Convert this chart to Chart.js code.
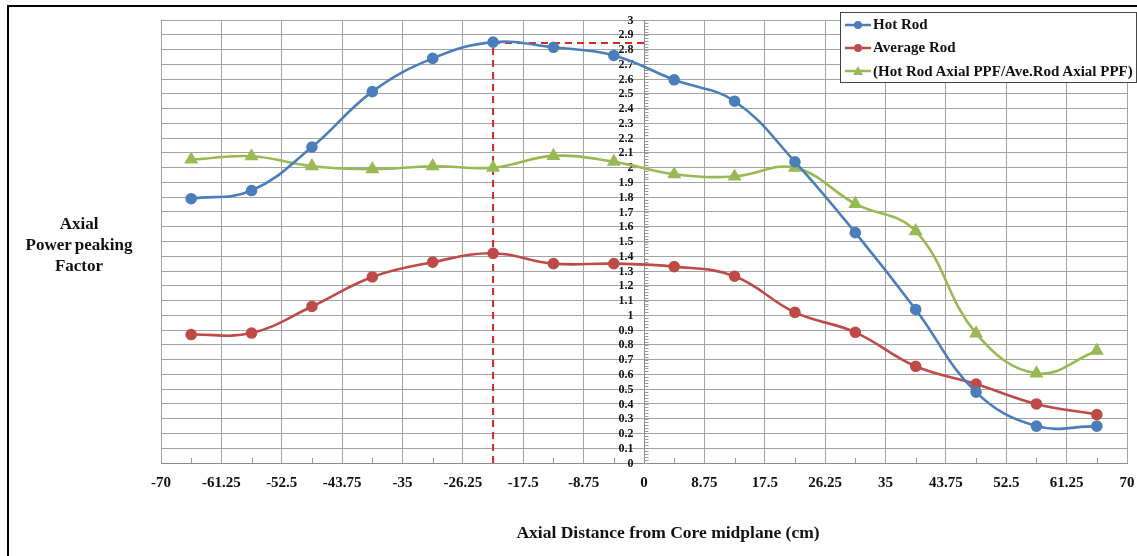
<!DOCTYPE html>
<html><head><meta charset="utf-8">
<script src="https://cdn.jsdelivr.net/npm/chart.js@4.4.0/dist/chart.umd.min.js"></script>
<style>
html,body{margin:0;padding:0;background:#fff;}
#wrap{position:relative;width:1137px;height:556px;overflow:hidden;font-family:"Liberation Serif","Times New Roman",serif;font-weight:bold;color:#111;}
#c{position:absolute;left:0;top:0;}
#frame{position:absolute;left:7px;top:5px;width:1140px;height:560px;border-top:2px solid #000;border-left:2px solid #000;pointer-events:none;}
#ytitle{position:absolute;left:9px;top:213px;width:140px;text-align:center;font-size:17px;line-height:21px;word-spacing:-1px;}
#xtitle{position:absolute;left:318px;width:700px;top:522px;text-align:center;font-size:17.5px;line-height:20px;}
#legend{position:absolute;left:840px;top:12px;width:297px;height:71px;border:1px solid #444;background:#fff;box-sizing:border-box;}
.li{display:flex;align-items:center;height:23.3px;font-size:15px;white-space:nowrap;}
.li svg{flex:none;}
</style>
</head><body>
<div id="wrap">
<canvas id="c" width="1137" height="556"></canvas>
<div id="frame"></div>
<div id="ytitle">Axial<br>Power peaking<br>Factor</div>
<div id="xtitle">Axial Distance from Core midplane (cm)</div>
<div id="legend">
 <div class="li"><svg width="32" height="14"><line x1="4" y1="7" x2="30" y2="7" stroke="#4A7EBB" stroke-width="2.5"/><circle cx="17" cy="7" r="4" fill="#4A7EBB"/></svg><span>Hot Rod</span></div>
 <div class="li"><svg width="32" height="14"><line x1="4" y1="7" x2="30" y2="7" stroke="#BE4B48" stroke-width="2.5"/><circle cx="17" cy="7" r="4" fill="#BE4B48"/></svg><span>Average Rod</span></div>
 <div class="li"><svg width="32" height="14"><line x1="4" y1="7" x2="30" y2="7" stroke="#98B954" stroke-width="2.5"/><polygon points="17,2 22,11 12,11" fill="#98B954"/></svg><span>(Hot Rod Axial PPF/Ave.Rod Axial PPF)</span></div>
</div>
</div>
<script>
// ---- data ----
const axialPositions = [-65.625, -56.875, -48.125, -39.375, -30.625, -21.875, -13.125, -4.375,
                        4.375, 13.125, 21.875, 30.625, 39.375, 48.125, 56.875, 65.625];
const hotRod     = [1.79, 1.845, 2.14, 2.515, 2.74, 2.85, 2.815, 2.76, 2.595, 2.45, 2.04, 1.56, 1.04, 0.48, 0.25, 0.25];
const averageRod = [0.87, 0.88, 1.06, 1.26, 1.36, 1.42, 1.35, 1.35, 1.33, 1.265, 1.02, 0.885, 0.655, 0.535, 0.40, 0.328];
const ppfRatio   = [2.055, 2.077, 2.01, 1.99, 2.01, 2.0, 2.08, 2.04, 1.955, 1.94, 2.0, 1.755, 1.57, 0.878, 0.607, 0.76];
const peakGuideX = [-21.875, -21.875, 0];
const peakGuideY = [0, 2.845, 2.845];
const xTickLabels = [-70, -61.25, -52.5, -43.75, -35, -26.25, -17.5, -8.75, 0, 8.75, 17.5, 26.25, 35, 43.75, 52.5, 61.25, 70];
const xMinorTicks = [-65.625, -56.875, -48.125, -39.375, -30.625, -21.875, -13.125, -4.375, 4.375, 13.125, 21.875, 30.625, 39.375, 48.125, 56.875, 65.625];
const yTickLabels = [0, 0.1, 0.2, 0.3, 0.4, 0.5, 0.6, 0.7, 0.8, 0.9, 1, 1.1, 1.2, 1.3, 1.4, 1.5, 1.6, 1.7, 1.8, 1.9, 2,
                     2.1, 2.2, 2.3, 2.4, 2.5, 2.6, 2.7, 2.8, 2.9, 3];
const yMinorStep = 0.02;

const pts = (xs, ys) => xs.map((x, i) => ({x: x, y: ys[i]}));
const BLUE = '#4A7EBB', RED = '#BE4B48', GREEN = '#98B954';
const FONT_FAMILY = '"Liberation Serif", "Times New Roman", serif';
const labelFont = {family: FONT_FAMILY, weight: 'bold'};

const axisDecor = {
  id: 'axisDecor',
  beforeDatasetsDraw(chart) {
    const {ctx, scales: {x, y}} = chart;
    ctx.save();
    ctx.strokeStyle = '#9a9a9a';
    ctx.lineWidth = 1;
    const x0 = Math.round(x.getPixelForValue(0)) + 0.5;
    const n = Math.round((y.max - y.min) / yMinorStep);
    ctx.beginPath();
    for (let i = 0; i <= n; i++) {
      const py = Math.round(y.getPixelForValue(y.min + i * yMinorStep)) + 0.5;
      ctx.moveTo(x0, py); ctx.lineTo(x0 + 4, py);
    }
    const yb = y.getPixelForValue(0);
    xMinorTicks.forEach(v => {
      const px = Math.round(x.getPixelForValue(v)) + 0.5;
      ctx.moveTo(px, yb); ctx.lineTo(px, yb - 5);
    });
    ctx.stroke();
    // y tick labels, left of the centred axis
    ctx.fillStyle = '#111';
    ctx.font = 'bold 12px ' + FONT_FAMILY;
    ctx.textAlign = 'right';
    ctx.textBaseline = 'middle';
    yTickLabels.forEach(v => {
      ctx.fillText(String(v), x0 - 11, y.getPixelForValue(v) + 0.5);
    });
    ctx.restore();
  }
};

new Chart(document.getElementById('c'), {
  type: 'line',
  data: {
    datasets: [
      {label: 'Hot Rod', data: pts(axialPositions, hotRod), borderColor: BLUE, backgroundColor: BLUE,
       borderWidth: 2.6, pointRadius: 4.5, pointStyle: 'circle', tension: 0.4, order: 1},
      {label: 'Average Rod', data: pts(axialPositions, averageRod), borderColor: RED, backgroundColor: RED,
       borderWidth: 2.6, pointRadius: 4.5, pointStyle: 'circle', tension: 0.4, order: 2},
      {label: '(Hot Rod Axial PPF/Ave.Rod Axial PPF)', data: pts(axialPositions, ppfRatio), borderColor: GREEN, backgroundColor: GREEN,
       borderWidth: 2.6, pointRadius: 5.5, pointStyle: 'triangle', tension: 0.4, order: 3},
      {label: 'guide', data: pts(peakGuideX, peakGuideY), borderColor: '#D02828', borderWidth: 2,
       borderDash: [7, 5], pointRadius: 0, tension: 0, order: 10}
    ]
  },
  options: {
    responsive: false,
    animation: false,
    events: [],
    layout: {padding: {left: 161, right: 10, top: 20, bottom: 63}},
    plugins: {legend: {display: false}, tooltip: {enabled: false}},
    scales: {
      x: {
        type: 'linear', min: -70, max: 70, position: 'bottom',
        afterBuildTicks: s => { s.ticks = xTickLabels.map(v => ({value: v})); },
        afterFit: s => { s.height = 30; s.paddingLeft = 0; s.paddingRight = 0; },
        ticks: {autoSkip: false, maxRotation: 0, padding: 11, color: '#111',
                font: Object.assign({size: 15}, labelFont), callback: v => String(v)},
        grid: {color: '#a3a3a3', lineWidth: 1, drawTicks: false},
        border: {color: '#8a8a8a', width: 1}
      },
      y: {
        type: 'linear', min: 0, max: 3, position: {x: 0},
        afterBuildTicks: s => { s.ticks = yTickLabels.map(v => ({value: v})); },
        afterFit: s => { s.paddingTop = 0; s.paddingBottom = 0; },
        ticks: {display: false, autoSkip: false},
        grid: {color: '#a3a3a3', lineWidth: 1, drawTicks: false},
        border: {color: '#8a8a8a', width: 1}
      }
    }
  },
  plugins: [axisDecor]
});
</script>
</body></html>
